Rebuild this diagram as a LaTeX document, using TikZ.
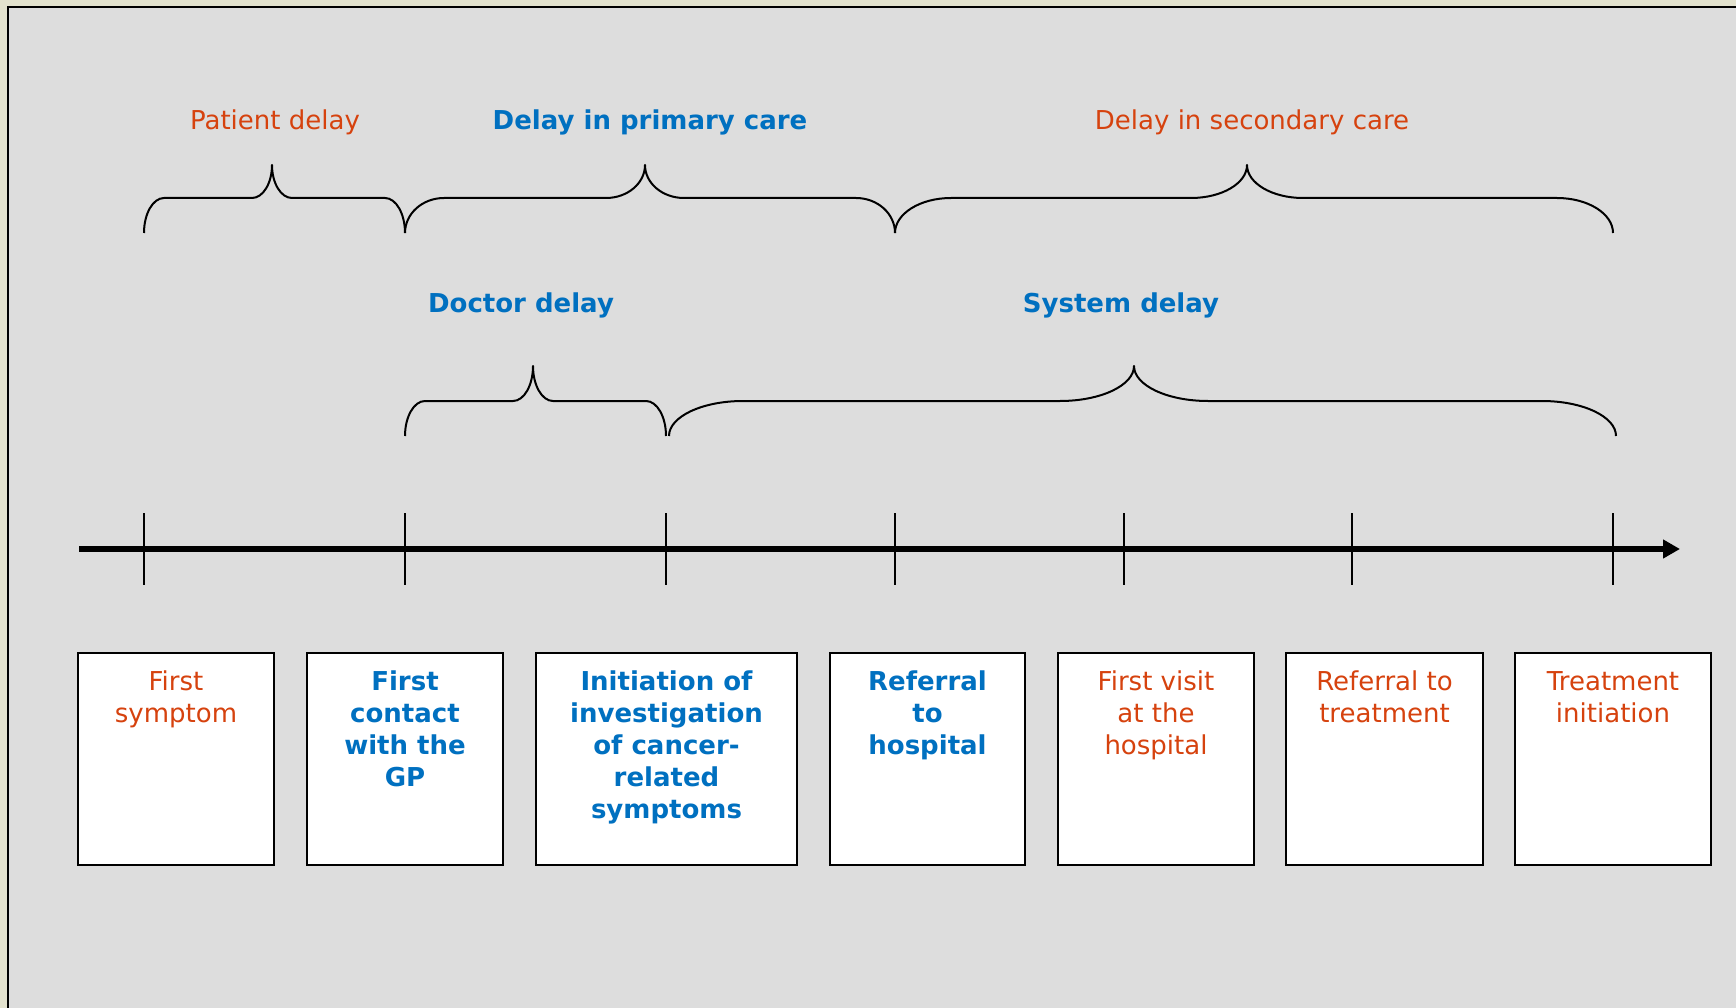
\documentclass[tikz,border=0pt]{standalone}
\usepackage{fontspec}
\setmainfont{DejaVu Sans}
\usetikzlibrary{arrows.meta}
\definecolor{orng}{RGB}{214,66,14}
\definecolor{blu}{RGB}{0,112,192}
\definecolor{panelgray}{RGB}{221,221,221}
\definecolor{beige}{RGB}{227,226,206}
\newcommand\mybrace[7]{% x0 x1 xt c yE yH yT
  \draw[bracestyle] (#1,#5)
    .. controls (#1,{#5+0.5523*(#6-#5)}) and ({#1+#4*(1-0.5523)},#6) .. ({#1+#4},#6)
    -- ({#3-#4},#6)
    .. controls ({#3-#4*(1-0.5523)},#6) and (#3,{#7+0.5523*(#6-#7)}) .. (#3,#7)
    .. controls (#3,{#7+0.5523*(#6-#7)}) and ({#3+#4*(1-0.5523)},#6) .. ({#3+#4},#6)
    -- ({#2-#4},#6)
    .. controls ({#2-#4*(1-0.5523)},#6) and (#2,{#5+0.5523*(#6-#5)}) .. (#2,#5);}
\begin{document}
\begin{tikzpicture}[x=1pt,y=-1pt,
  bracestyle/.style={line width=2pt, black, line join=round},
  ticky/.style={line width=1.6pt, black},
  box/.style={draw=black, line width=2.4pt, fill=white, inner sep=0pt, outer sep=0pt, minimum height=212pt},
  basetext/.style={inner sep=0pt, align=center, font=\fontsize{26pt}{32pt}\selectfont},
  otext/.style={basetext, text=orng},
  btext/.style={basetext, text=blu, font=\fontsize{26pt}{32pt}\selectfont\bfseries},
]
\useasboundingbox (0,0) rectangle (1736,1008);
\fill[beige] (0,0) rectangle (1736,1008);
\fill[panelgray] (8,7) rectangle (1736,1008);
\draw[line width=2.5pt] (8,1008) -- (8,7) -- (1736,7);

% heading labels
\node[otext, anchor=base] (lpat) at (275,130) {Patient delay};
\node[btext, anchor=base] (lpri) at (650,130) {Delay in primary care};
\node[otext, anchor=base] (lsec) at (1252,130) {Delay in secondary care};
\node[btext, anchor=base] (ldoc) at (521,312) {Doctor delay};
\node[btext, anchor=base] (lsys) at (1121,312) {System delay};

% braces
\mybrace{144}{405}{272}{20}{233}{198}{165}
\mybrace{405}{895}{645}{39}{233}{198}{165}
\mybrace{895}{1613}{1247}{56}{233}{198}{165}
\mybrace{405}{666}{533}{20}{436}{401}{366}
\mybrace{669}{1616}{1134}{74}{436}{401}{366}

% timeline
\coordinate (tl0) at (79,549);
\coordinate (tl1) at (1680,549);
\draw[line width=5.5pt, -{Triangle[length=17pt,width=18pt]}] (tl0) -- (tl1);
\foreach \x in {144,405,666,895,1124,1352,1613}
  \draw[ticky] (\x,513) -- (\x,585);

% boxes
\node[box, minimum width=196pt] (b1) at (176,759) {};
\node[box, minimum width=196pt] (b2) at (405,759) {};
\node[box, minimum width=261pt] (b3) at (666.5,759) {};
\node[box, minimum width=195pt] (b4) at (927.5,759) {};
\node[box, minimum width=196pt] (b5) at (1156,759) {};
\node[box, minimum width=197pt] (b6) at (1384.5,759) {};
\node[box, minimum width=196pt] (b7) at (1613,759) {};

\node[otext, anchor=north] (t1) at ([yshift=-16pt]b1.north) {\rule{0pt}{21pt}First\\symptom};
\node[btext, anchor=north] (t2) at ([yshift=-16pt]b2.north) {\rule{0pt}{21pt}First\\contact\\with the\\GP};
\node[btext, anchor=north] (t3) at ([yshift=-16pt]b3.north) {\rule{0pt}{21pt}Initiation of\\investigation\\of cancer-\\related\\symptoms};
\node[btext, anchor=north] (t4) at ([yshift=-16pt]b4.north) {\rule{0pt}{21pt}Referral\\to\\hospital};
\node[otext, anchor=north] (t5) at ([yshift=-16pt]b5.north) {\rule{0pt}{21pt}First visit\\at the\\hospital};
\node[otext, anchor=north] (t6) at ([yshift=-16pt]b6.north) {\rule{0pt}{21pt}Referral to\\treatment};
\node[otext, anchor=north] (t7) at ([yshift=-16pt]b7.north) {\rule{0pt}{21pt}Treatment\\initiation};
\end{tikzpicture}
\end{document}
